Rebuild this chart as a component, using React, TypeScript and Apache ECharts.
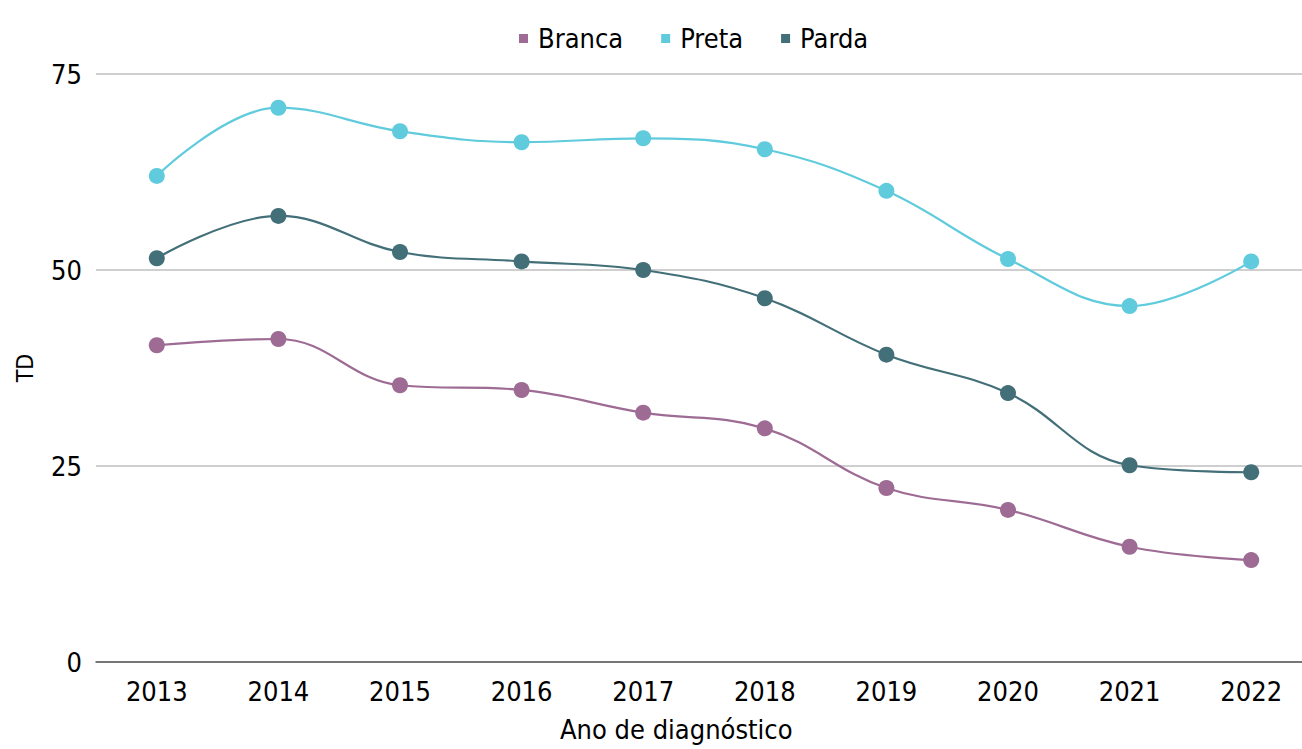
import React, { useEffect, useRef } from "react";
import * as echarts from "echarts";

const years = ["2013", "2014", "2015", "2016", "2017", "2018", "2019", "2020", "2021", "2022"];
const branca = [40.4, 41.2, 35.3, 34.7, 31.8, 29.8, 22.2, 19.4, 14.7, 13.0];
const preta = [62.0, 70.7, 67.7, 66.3, 66.8, 65.4, 60.1, 51.4, 45.4, 51.1];
const parda = [51.5, 56.9, 52.3, 51.1, 50.0, 46.4, 39.2, 34.3, 25.1, 24.2];
const seriesNames = ["Branca", "Preta", "Parda"];
const colors = ["#9d6b93", "#5fcbdc", "#426f78"];
const FONT = "'DejaVu Sans Condensed', 'Roboto', sans-serif";

export default function App() {
  const ref = useRef<HTMLDivElement>(null);
  useEffect(() => {
    document.body.style.margin = "0";
    document.body.style.overflow = "hidden";
    const chart = echarts.init(ref.current!, undefined, { renderer: "svg" });
    const datasets = [branca, preta, parda];
    chart.setOption({
      animation: false,
      textStyle: { fontFamily: FONT },
      color: colors,
      legend: {
        top: 20,
        left: 514,
        itemWidth: 9,
        itemHeight: 9,
        itemGap: 38,
        icon: "rect",
        textStyle: { fontSize: 27, color: "#000", fontFamily: FONT, padding: [0, 0, 0, 5] },
        data: seriesNames,
      },
      grid: { left: 96, top: 74, width: 1216, bottom: 87 },
      xAxis: {
        type: "category",
        data: years,
        axisLine: { lineStyle: { color: "#595959", width: 1.5 } },
        axisTick: { show: false },
        axisLabel: { fontSize: 27, color: "#000", margin: 16, fontFamily: FONT },
      },
      yAxis: {
        type: "value",
        min: 0,
        max: 75,
        interval: 25,
        name: "TD",
        nameLocation: "middle",
        nameGap: 60,
        nameTextStyle: { fontSize: 23, color: "#000", fontFamily: FONT },
        axisLabel: { fontSize: 27, color: "#000", margin: 14, fontFamily: FONT },
        splitLine: { lineStyle: { color: "#bfbfbf", width: 1.5 } },
      },
      graphic: [
        {
          type: "text",
          left: 560,
          top: 716,
          style: { text: "Ano de diagnóstico", fontSize: 27, fill: "#000", fontFamily: FONT },
        },
      ],
      series: datasets.map((d, i) => ({
        name: seriesNames[i],
        type: "line",
        data: d,
        smooth: 0.4,
        symbol: "circle",
        symbolSize: 16,
        lineStyle: { width: 2.2, color: colors[i] },
        itemStyle: { color: colors[i] },
      })),
    });
    return () => chart.dispose();
  }, []);
  return <div ref={ref} style={{ width: 1320, height: 749 }} />;
}
